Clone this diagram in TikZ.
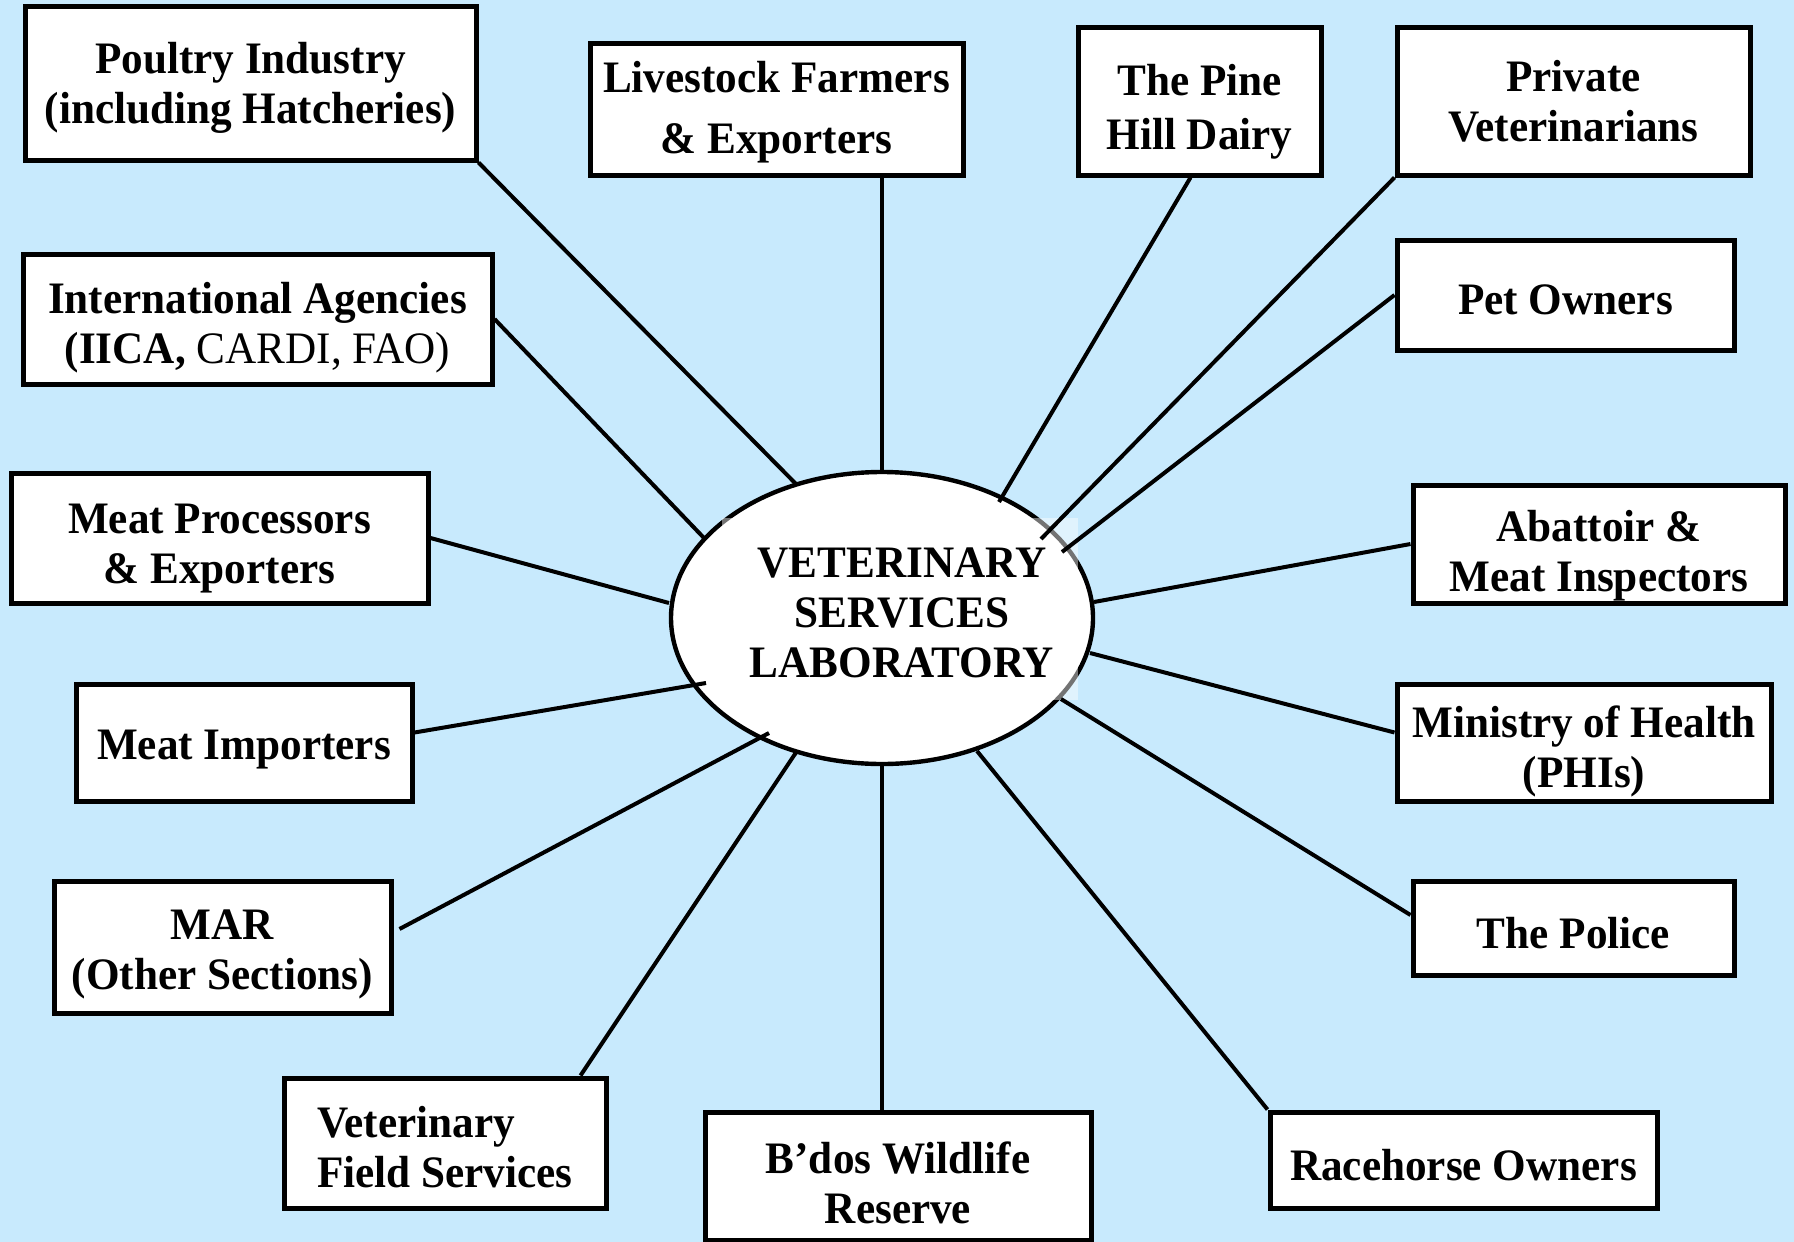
\documentclass[tikz,border=0pt]{standalone}
\usepackage{fontspec}
\setmainfont{Liberation Serif}[FakeStretch=0.96]
\usetikzlibrary{shapes.geometric,calc}
\definecolor{bgblue}{RGB}{200,234,253}
\newcommand\liftby[1]{\rule{0pt}{#1pt}}
\begin{document}
\begin{tikzpicture}[x=0.5pt,y=-0.5pt,
  txt/.style={font=\fontsize{22.5}{25}\selectfont\bfseries},
  box/.style={txt,draw=black,line width=2.5pt,fill=white,inner sep=0pt,align=center},
  link/.style={line width=2pt}]
\useasboundingbox (0,0) rectangle (1794,1242);
\fill[bgblue] (0,0) rectangle (1794,1242);

% centre
\node[draw=black,line width=2.2pt,fill=white,ellipse,minimum width=211pt,minimum height=146pt,inner sep=0pt] (lab) at (882,618) {};
\fill[white,opacity=0.45] (722,518) rectangle (1078,700);

% boxes
\node[box,minimum width=225.5pt,minimum height=77pt] (poultry) at (250.5,83) {\liftby{20}Poultry Industry\\(including Hatcheries)};
\node[box,minimum width=186.5pt,minimum height=66pt] (live) at (776.5,109) {\liftby{19}Livestock Farmers\\[5.5pt]\& Exporters};
\node[box,minimum width=121.5pt,minimum height=74pt] (pine) at (1199.5,101) {\liftby{26}The Pine\\[2pt]Hill Dairy};
\node[box,minimum width=176.5pt,minimum height=74pt] (privet) at (1573.5,101) {Private\\Veterinarians};
\node[box,minimum width=168.5pt,minimum height=55pt] (pet) at (1565.5,295) {\liftby{20}Pet Owners};
\node[box,minimum width=234.5pt,minimum height=65pt] (intl) at (257.5,319) {\liftby{24}International Agencies\\(IICA, {\mdseries CARDI, FAO)}};
\node[box,minimum width=208.5pt,minimum height=65pt] (proc) at (219.5,538) {\liftby{25}Meat Processors\\\& Exporters};
\node[box,minimum width=186pt,minimum height=59pt] (abat) at (1599,544) {\liftby{27}Abattoir \&\\Meat Inspectors};
\node[box,minimum width=168pt,minimum height=58.5pt] (imp) at (244,742.5) {\liftby{22}Meat Importers};
\node[box,minimum width=187pt,minimum height=58.5pt] (moh) at (1584,742.5) {\liftby{25}Ministry of Health\\(PHIs)};
\node[box,minimum width=168.5pt,minimum height=66pt] (mar) at (222.5,947) {\liftby{22}MAR\\(Other Sections)};
\node[box,minimum width=160.5pt,minimum height=47pt] (police) at (1573.5,928) {\liftby{21}The Police};
\node[box,minimum width=161pt,minimum height=65pt,align=left] (vfs) at (445,1143) {\liftby{20}Veterinary\\Field Services};
\node[box,minimum width=193pt,minimum height=64pt] (bdos) at (898,1176) {\liftby{23}B’dos Wildlife\\Reserve};
\node[box,minimum width=193.5pt,minimum height=48pt] (race) at (1463.5,1160) {\liftby{21}Racehorse Owners};

% connector ends on the ellipse
\coordinate (ePoul) at (797,485);
\coordinate (eIntl) at (704,538);
\coordinate (eProc) at (669,603);
\coordinate (eImp) at (706,683);
\coordinate (eMar) at (769,733);
\coordinate (eVfs) at (797,751);
\coordinate (ePine) at (999,502);
\coordinate (ePriv) at (1041,539);
\coordinate (ePet) at (1062,552);
\coordinate (eAbat) at (1094,602);
\coordinate (eMoh) at (1090,653);
\coordinate (ePol) at (1061,699);
\coordinate (eRace) at (977,751);

\draw[link] (poultry.south east) -- (ePoul);
\draw[link] (lab.north |- live.south) -- (lab.north);
\draw[link] ($(pine.south)+(-9,0)$) -- (ePine);
\draw[link] (privet.south west) -- (ePriv);
\draw[link] (pet.west) -- (ePet);
\draw[link] (intl.east) -- (eIntl);
\draw[link] (proc.east) -- (eProc);
\draw[link] (abat.west) -- (eAbat);
\draw[link] ($(imp.east)+(0,-10)$) -- (eImp);
\draw[link] ($(moh.west)+(0,-10)$) -- (eMoh);
\draw[link] ($(mar.east)+(6,-18)$) -- (eMar);
\draw[link] ($(police.west)+(0,-13)$) -- (ePol);
\draw[link] ($(vfs.north east)+(-28,0)$) -- (eVfs);
\draw[link] (lab.south |- bdos.north) -- (lab.south);
\draw[link] (race.north west) -- (eRace);

\node[txt,align=center] (labtxt) at (902,613) {VETERINARY\\SERVICES\\LABORATORY};
\end{tikzpicture}
\end{document}
